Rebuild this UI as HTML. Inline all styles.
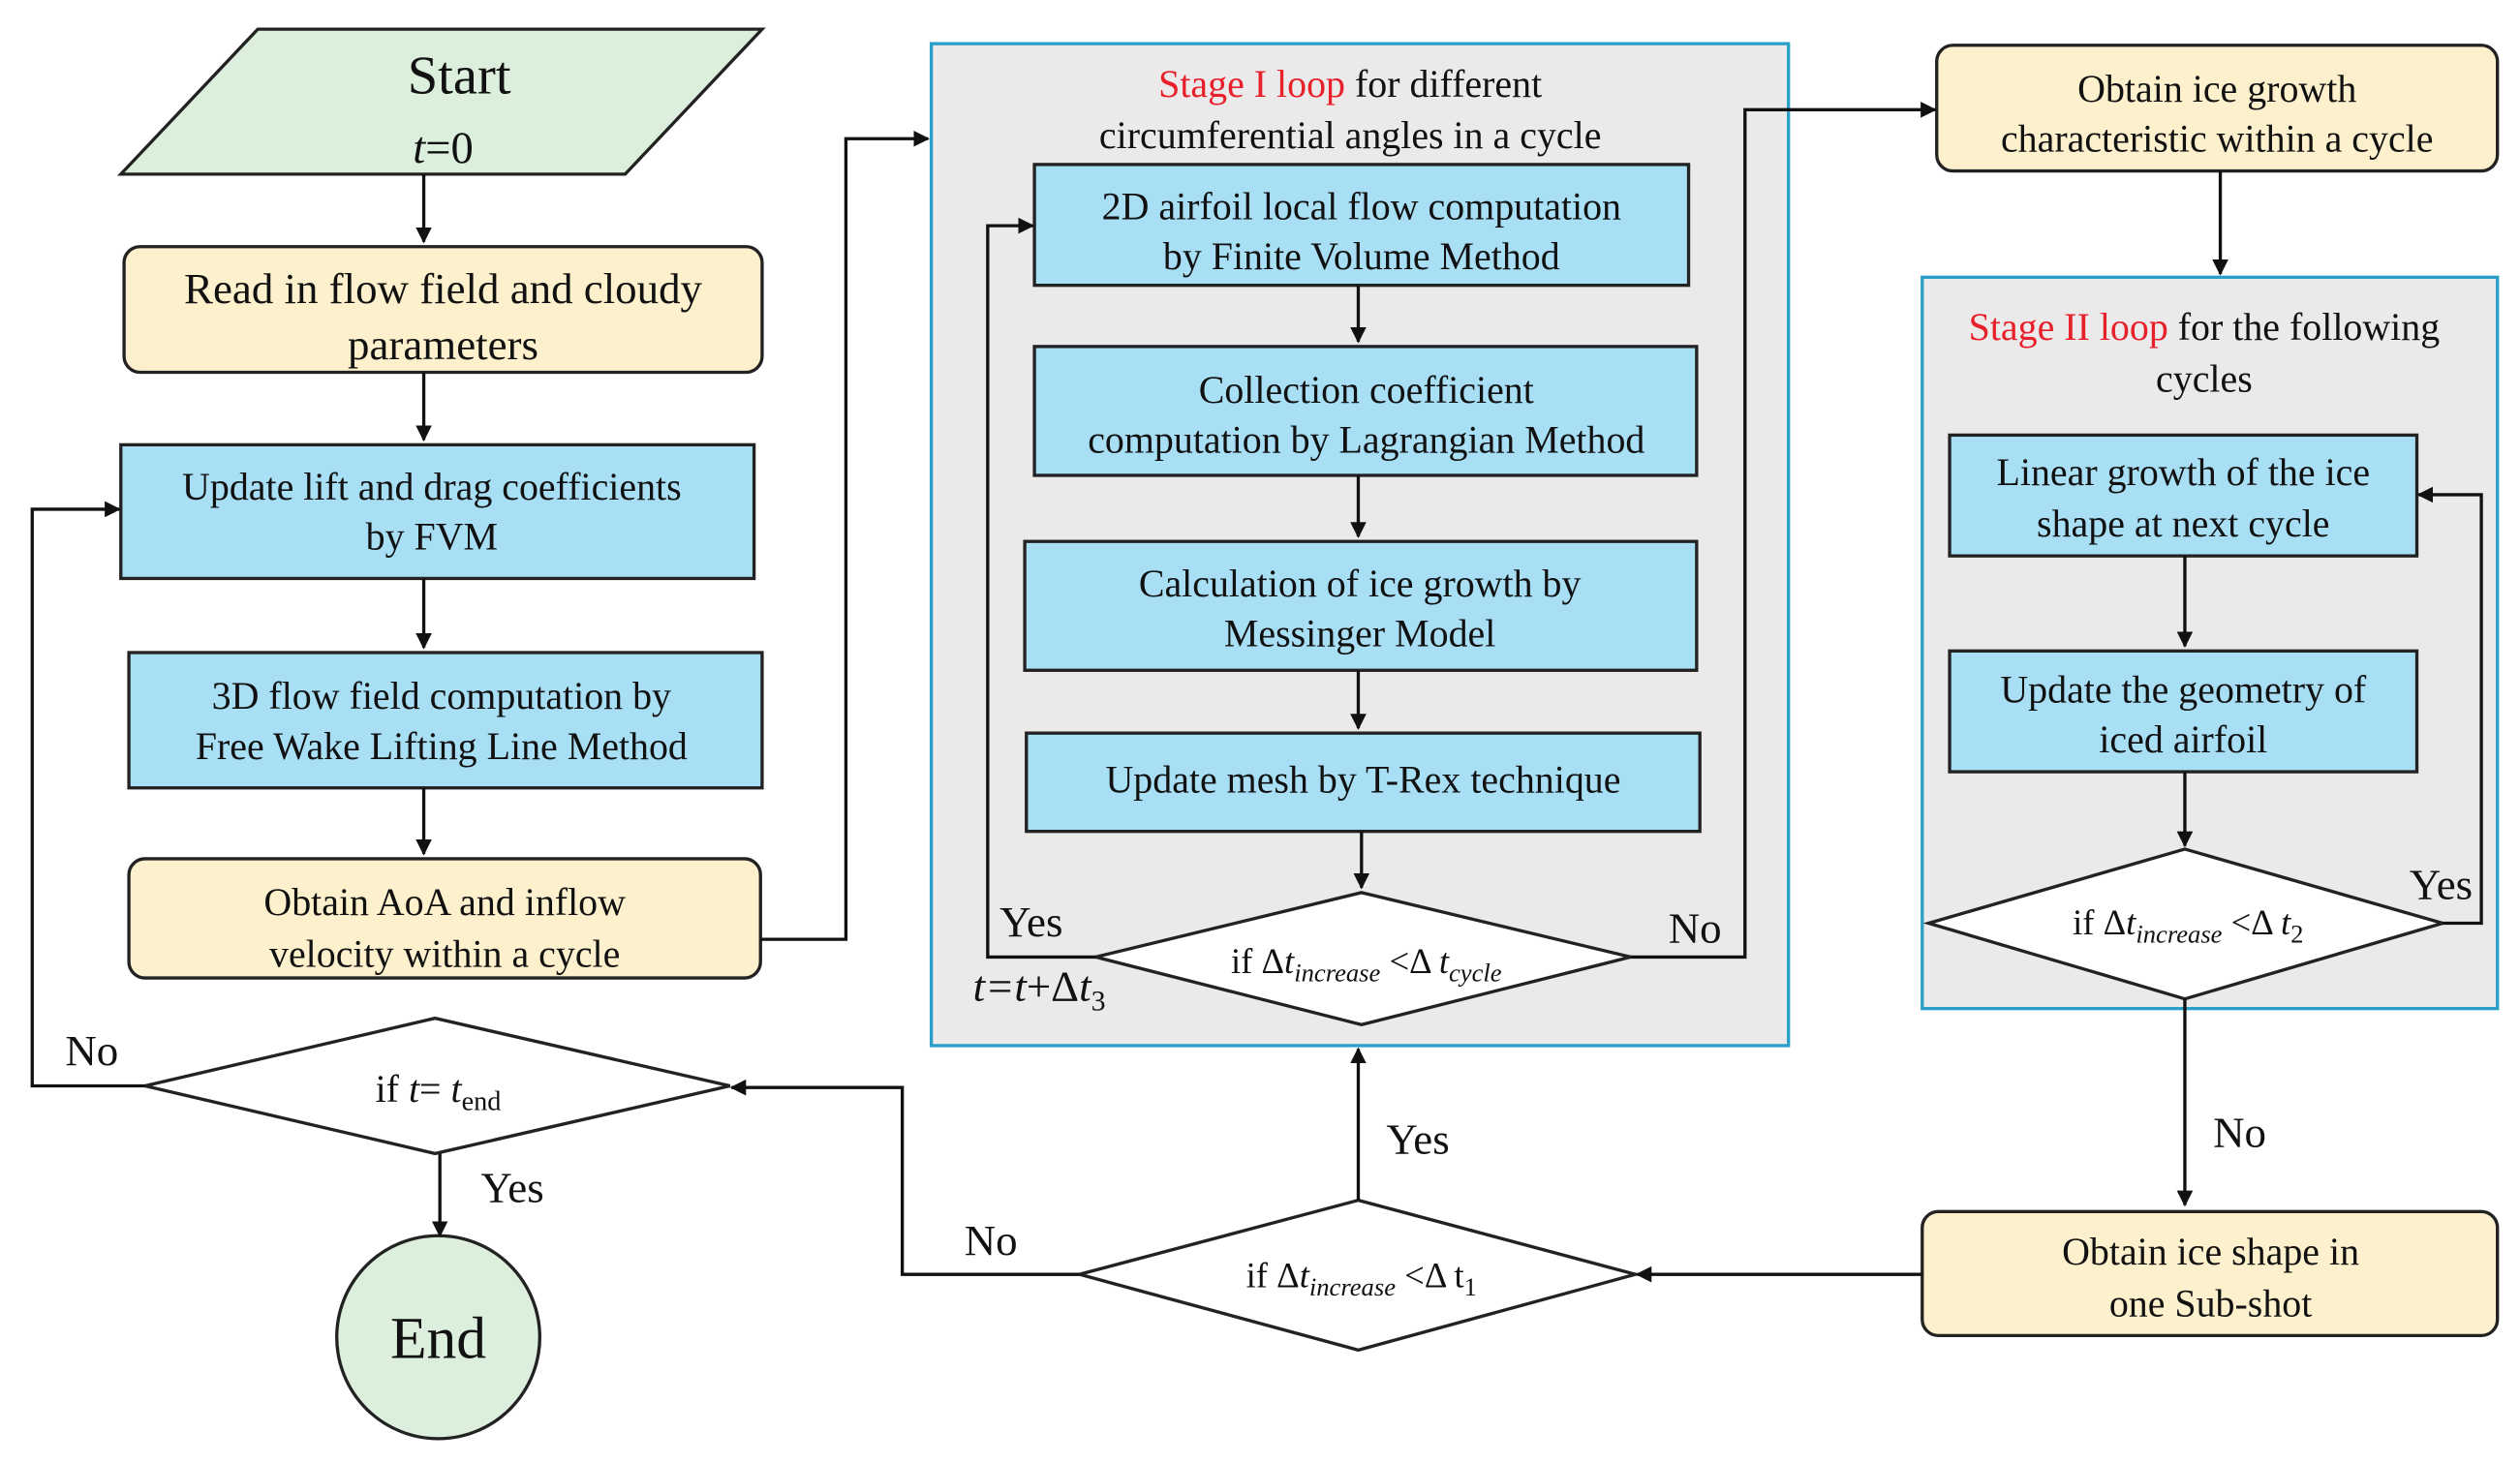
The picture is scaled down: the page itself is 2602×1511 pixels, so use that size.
<!DOCTYPE html>
<html><head><meta charset="utf-8"><style>
html,body{margin:0;padding:0;background:#fff;}
svg{display:block;}
svg text{font-family:"Liberation Serif","Times New Roman","DejaVu Serif",serif;fill:#111;}
</style></head><body>
<svg width="2602" height="1511" viewBox="0 0 1564 908" xmlns="http://www.w3.org/2000/svg" font-family="Liberation Serif, Times New Roman, DejaVu Serif, serif">
<defs>
<marker id="a" markerWidth="10" markerHeight="10" refX="9" refY="5" orient="auto" markerUnits="userSpaceOnUse">
<path d="M0,0 L10,5 L0,10 z" fill="#111"/></marker>
</defs>
<g stroke="#222" stroke-width="2">
<rect x="578" y="27" width="532" height="622" fill="#ebe9ea" stroke="#2aa0c8"/>
<rect x="1193" y="172" width="357" height="454" fill="#ebe9ea" stroke="#2aa0c8"/>
<polygon points="75,108 160,18 473,18 388,108" fill="#dcefdc"/>
<rect x="77" y="153" width="396" height="78" rx="10" fill="#fdf0cc"/>
<rect x="75" y="276" width="393" height="83" fill="#a8dff5"/>
<rect x="80" y="405" width="393" height="84" fill="#a8dff5"/>
<rect x="80" y="533" width="392" height="74" rx="10" fill="#fdf0cc"/>
<polygon points="90,674 270,632 453,674 270,716" fill="#fff"/>
<circle cx="272" cy="830" r="63" fill="#dcefdc"/>
<rect x="642" y="102" width="406" height="75" fill="#a8dff5"/>
<rect x="642" y="215" width="411" height="80" fill="#a8dff5"/>
<rect x="636" y="336" width="417" height="80" fill="#a8dff5"/>
<rect x="637" y="455" width="418" height="61" fill="#a8dff5"/>
<polygon points="680,594 845,554 1012,594 845,636" fill="#fff"/>
<rect x="1202" y="28" width="348" height="78" rx="10" fill="#fdf0cc"/>
<rect x="1210" y="270" width="290" height="75" fill="#a8dff5"/>
<rect x="1210" y="404" width="290" height="75" fill="#a8dff5"/>
<polygon points="1197,573 1356,527 1516,573 1356,620" fill="#fff"/>
<rect x="1193" y="752" width="357" height="77" rx="10" fill="#fdf0cc"/>
<polygon points="670,791 843,745 1015,791 843,838" fill="#fff"/>
</g>
<g stroke="#111" stroke-width="2" fill="none" marker-end="url(#a)">
<path d="M263,108 V150"/><path d="M263,231 V273"/><path d="M263,359 V402"/><path d="M263,489 V530"/>
<path d="M472,583 H525 V86 H576"/>
<path d="M90,674 H20 V316 H74"/>
<path d="M273,716 V767"/>
<path d="M843,177 V212"/><path d="M843,295 V333"/><path d="M843,416 V452"/><path d="M845,516 V551"/>
<path d="M680,594 H613 V140 H641"/>
<path d="M1012,594 H1083 V68 H1201"/>
<path d="M1378,106 V170"/>
<path d="M1356,345 V401"/><path d="M1356,479 V525"/>
<path d="M1516,573 H1540 V307 H1501"/>
<path d="M1356,620 V748"/>
<path d="M1193,791 H1016"/>
<path d="M843,745 V651"/>
<path d="M670,791 H560 V675 H454"/>
</g>
<g font-size="24" text-anchor="middle">
<text x="285" y="58" font-size="34">Start</text>
<text x="275" y="101" font-size="28"><tspan font-style="italic">t</tspan>=0</text>
<text x="275" y="188" font-size="27">Read in flow field and cloudy</text>
<text x="275" y="223" font-size="27">parameters</text>
<text x="268" y="310">Update lift and drag coefficients</text>
<text x="268" y="341">by FVM</text>
<text x="274" y="440">3D flow field computation by</text>
<text x="274" y="471">Free Wake Lifting Line Method</text>
<text x="276" y="568">Obtain  AoA and inflow</text>
<text x="276" y="600">velocity within a cycle</text>
<text x="272" y="684">if <tspan font-style="italic">t</tspan>= <tspan font-style="italic">t</tspan><tspan font-size="17" dy="5">end</tspan></text>
<text x="57" y="661" font-size="27">No</text>
<text x="318" y="746" font-size="27">Yes</text>
<text x="272" y="843" font-size="37">End</text>
<text x="838" y="60"><tspan fill="#e8202a">Stage I loop</tspan> for different</text>
<text x="838" y="92">circumferential angles in a cycle</text>
<text x="845" y="136">2D airfoil local flow computation</text>
<text x="845" y="167">by Finite Volume Method</text>
<text x="848" y="250">Collection coefficient</text>
<text x="848" y="281">computation by Lagrangian Method</text>
<text x="844" y="370">Calculation of ice growth by</text>
<text x="844" y="401">Messinger Model</text>
<text x="846" y="492">Update mesh by T-Rex technique</text>
<text x="848" y="604" font-size="22">if Δ<tspan font-style="italic">t</tspan><tspan font-size="16" dy="5" font-style="italic">increase</tspan><tspan dy="-5"> &lt;Δ </tspan><tspan font-style="italic">t</tspan><tspan font-size="16" dy="5" font-style="italic">cycle</tspan></text>
<text x="640" y="581" font-size="27">Yes</text>
<text x="645" y="621" font-size="27"><tspan font-style="italic">t=t</tspan>+Δ<tspan font-style="italic">t</tspan><tspan font-size="18" dy="6">3</tspan></text>
<text x="1052" y="585" font-size="27">No</text>
<text x="1376" y="63">Obtain ice growth</text>
<text x="1376" y="94">characteristic within a cycle</text>
<text x="1368" y="211"><tspan fill="#e8202a">Stage II loop</tspan> for the following</text>
<text x="1368" y="243">cycles</text>
<text x="1355" y="301">Linear growth of the ice</text>
<text x="1355" y="333">shape at next cycle</text>
<text x="1355" y="436">Update the geometry of</text>
<text x="1355" y="467">iced airfoil</text>
<text x="1358" y="580" font-size="22">if Δ<tspan font-style="italic">t</tspan><tspan font-size="16" dy="5" font-style="italic">increase</tspan><tspan dy="-5"> &lt;Δ </tspan><tspan font-style="italic">t</tspan><tspan font-size="16" dy="5">2</tspan></text>
<text x="1515" y="558" font-size="27">Yes</text>
<text x="1390" y="712" font-size="27">No</text>
<text x="1372" y="785">Obtain ice shape in</text>
<text x="1372" y="817">one Sub-shot</text>
<text x="845" y="799" font-size="22">if Δ<tspan font-style="italic">t</tspan><tspan font-size="16" dy="5" font-style="italic">increase</tspan><tspan dy="-5"> &lt;Δ t</tspan><tspan font-size="16" dy="5">1</tspan></text>
<text x="880" y="716" font-size="27">Yes</text>
<text x="615" y="779" font-size="27">No</text>
</g>
</svg>
</body></html>
